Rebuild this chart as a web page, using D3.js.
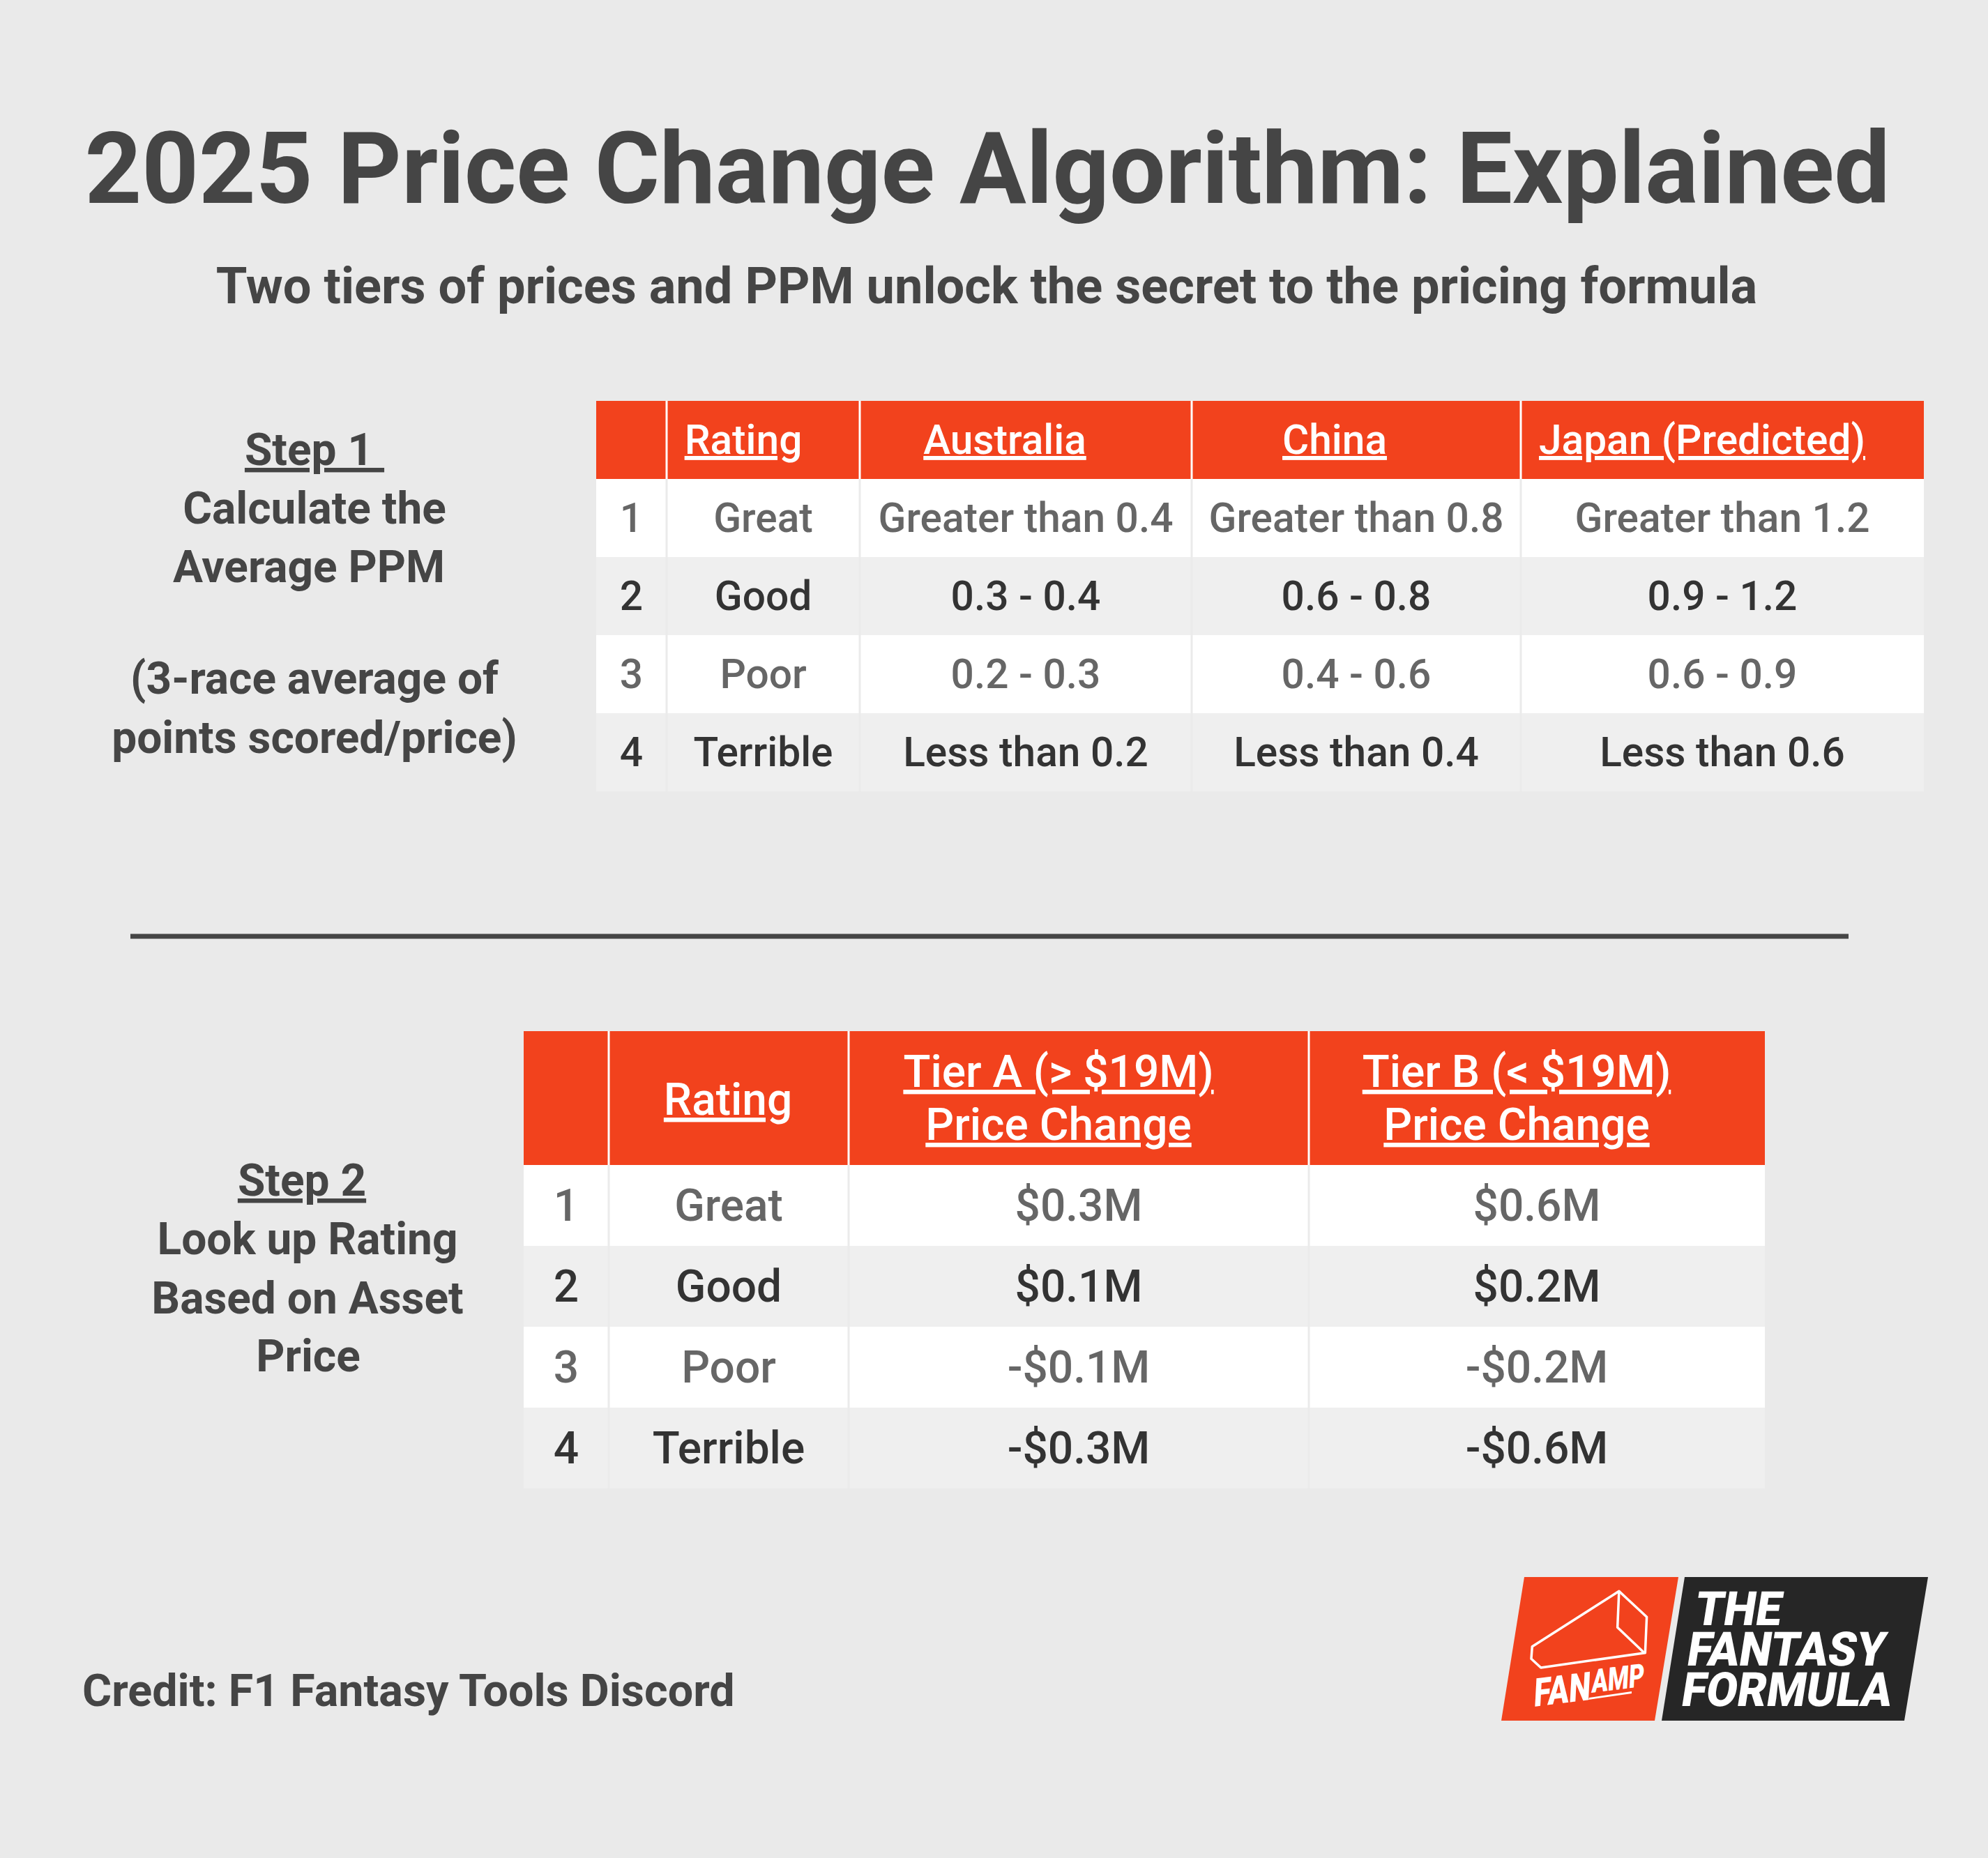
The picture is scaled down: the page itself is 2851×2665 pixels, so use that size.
<!DOCTYPE html>
<html>
<head>
<meta charset="utf-8">
<script src="https://d3js.org/d3.v7.min.js"></script>
<style>
  html, body { margin: 0; padding: 0; background: #eaeaea; }
  text { font-family: Roboto, sans-serif; white-space: pre; }
</style>
</head>
<body>
<div id="container"></div>
<script>
// table 1 - step 1
var ppmIndex = ["1", "2", "3", "4"];
var ppmRatings = ["Great", "Good", "Poor", "Terrible"];
var ppmHeaders = ["Rating", "Australia", "China", "Japan (Predicted)"];
var ppmAustralia = ["Greater than 0.4", "0.3 - 0.4", "0.2 - 0.3", "Less than 0.2"];
var ppmChina = ["Greater than 0.8", "0.6 - 0.8", "0.4 - 0.6", "Less than 0.4"];
var ppmJapan = ["Greater than 1.2", "0.9 - 1.2", "0.6 - 0.9", "Less than 0.6"];

// table 2 - step 2
var tierHeaders = [["Rating"], ["Tier A (> $19M)", "Price Change"], ["Tier B (< $19M)", "Price Change"]];
var tierA = ["$0.3M", "$0.1M", "-$0.1M", "-$0.3M"];
var tierB = ["$0.6M", "$0.2M", "-$0.2M", "-$0.6M"];

var step1Lines = ["Step 1 ", "Calculate the", "Average PPM", "", "(3-race average of", "points scored/price)"];
var step2Lines = ["Step 2", "Look up Rating", "Based on Asset", "Price"];

var width = 2851, height = 2665;
var orange = "#f2421d", dark = "#454545";

var svg = d3.select("#container").append("svg")
    .attr("width", width)
    .attr("height", height)
    .style("display", "block");

svg.append("rect").attr("width", width).attr("height", height).attr("fill", "#eaeaea");

svg.append("text")
    .attr("x", 1416).attr("y", 291)
    .attr("text-anchor", "middle")
    .attr("font-size", 142.6).attr("font-weight", 700)
    .attr("fill", dark)
    .text("2025 Price Change Algorithm: Explained");

svg.append("text")
    .attr("x", 1415).attr("y", 435)
    .attr("text-anchor", "middle")
    .attr("font-size", 72.2).attr("font-weight", 700)
    .attr("fill", dark)
    .text("Two tiers of prices and PPM unlock the secret to the pricing formula");

svg.append("line")
    .attr("x1", 187).attr("x2", 2651)
    .attr("y1", 1343).attr("y2", 1343)
    .attr("stroke", dark).attr("stroke-width", 7);

svg.append("text")
    .attr("x", 118).attr("y", 2447)
    .attr("font-size", 64.6).attr("font-weight", 700)
    .attr("fill", dark)
    .text("Credit: F1 Fantasy Tools Discord");

// side notes, first line is underlined
function sideNote(lines, x, y) {
    svg.append("g").selectAll("text")
        .data(lines)
        .enter()
        .append("text")
        .attr("x", function(d, i) { return x[i]; })
        .attr("y", function(d, i) { return y[i]; })
        .attr("text-anchor", "middle")
        .attr("font-size", 64).attr("font-weight", 700)
        .attr("fill", dark)
        .attr("text-decoration", function(d, i) { return i == 0 ? "underline" : null; })
        .text(function(d) { return d; });
}
sideNote(step1Lines, [451, 451, 443, 0, 451, 451], [667, 751, 835, 0, 995, 1080]);
sideNote(step2Lines, [433, 441, 441, 442], [1715, 1799, 1884, 1967]);

function drawTable(t) {
    var colX = d3.scaleOrdinal().domain(d3.range(t.columns.length)).range(t.edges);
    var rowY = d3.scaleBand().domain(d3.range(t.rows)).range([t.bodyTop, t.bottom]);
    var g = svg.append("g");
    var left = t.edges[0], right = t.edges[t.edges.length - 1];

    g.append("rect")
        .attr("x", left).attr("y", t.top)
        .attr("width", right - left).attr("height", t.bodyTop - t.top)
        .attr("fill", orange);

    g.selectAll("rect.row")
        .data(d3.range(t.rows))
        .enter()
        .append("rect")
        .attr("class", "row")
        .attr("x", left).attr("y", function(d) { return rowY(d); })
        .attr("width", right - left).attr("height", rowY.bandwidth())
        .attr("fill", function(d) { return d % 2 ? "#efefef" : "#ffffff"; });

    // column separators
    g.selectAll("line.head")
        .data(t.edges.slice(1, -1))
        .enter()
        .append("line")
        .attr("class", "head")
        .attr("x1", function(d) { return d; }).attr("x2", function(d) { return d; })
        .attr("y1", t.top).attr("y2", t.bodyTop)
        .attr("stroke", "#ffffff").attr("stroke-width", 3);

    g.selectAll("line.body")
        .data(t.edges.slice(1, -1))
        .enter()
        .append("line")
        .attr("class", "body")
        .attr("x1", function(d) { return d; }).attr("x2", function(d) { return d; })
        .attr("y1", t.bodyTop).attr("y2", t.bottom)
        .attr("stroke", "#ebebeb").attr("stroke-width", 3);

    // header text
    t.headers.forEach(function(lines, c) {
        g.selectAll(null)
            .data(lines)
            .enter()
            .append("text")
            .attr("x", t.headerX[c])
            .attr("y", function(d, i) { return t.headerY[c][i]; })
            .attr("text-anchor", "middle")
            .attr("font-size", t.fontSize).attr("font-weight", 500)
            .attr("fill", "#ffffff")
            .attr("text-decoration", "underline")
            .text(function(d) { return d; });
    });

    // body cells
    t.columns.forEach(function(values, c) {
        var cx = (colX(c) + t.edges[c + 1]) / 2;
        g.selectAll(null)
            .data(values)
            .enter()
            .append("text")
            .attr("x", cx)
            .attr("y", function(d, i) { return rowY(i) + t.baseline; })
            .attr("text-anchor", "middle")
            .attr("font-size", t.fontSize).attr("font-weight", 500)
            .attr("fill", function(d, i) { return i % 2 ? "#333333" : "#666666"; })
            .text(function(d) { return d; });
    });
}

drawTable({
    columns: [ppmIndex, ppmRatings, ppmAustralia, ppmChina, ppmJapan],
    headers: ppmHeaders.map(function(h) { return [h]; }),
    edges: [855, 956, 1233, 1709, 2181, 2759],
    headerX: [1066, 1441, 1914, 2441],
    headerY: [[651], [651], [651], [651]],
    rows: 4, top: 575, bodyTop: 687, bottom: 1135,
    baseline: 76, fontSize: 58.6
});

drawTable({
    columns: [ppmIndex, ppmRatings, tierA, tierB],
    headers: tierHeaders,
    edges: [751, 873, 1217, 1877, 2531],
    headerX: [1044, 1518, 2175],
    headerY: [[1599], [1559, 1635], [1559, 1635]],
    rows: 4, top: 1479, bodyTop: 1671, bottom: 2135,
    baseline: 80, fontSize: 64
});

// logo
var logo = svg.append("g");
logo.append("polygon").attr("points", "2186,2262 2407,2262 2373,2468 2153,2468").attr("fill", orange);
logo.append("polygon").attr("points", "2416,2262 2765,2262 2731,2468 2383,2468").attr("fill", "#262626");

var cone = logo.append("g")
    .attr("transform", "translate(2100,2220) scale(0.4464,0.3333)")
    .attr("fill", "none").attr("stroke", "#ffffff").attr("stroke-linejoin", "round");
cone.append("polygon").attr("points", "497,187 586,298 581,452 246,516 215,478 218,425")
    .attr("vector-effect", "non-scaling-stroke").attr("stroke-width", 3.5);
cone.append("polyline").attr("points", "497,187 492,343 578,452")
    .attr("vector-effect", "non-scaling-stroke").attr("stroke-width", 3.5);

var logoText = [
    {t: "THE", x: 2428, y: 2331, w: 124, s: 68},
    {t: "FANTASY", x: 2417, y: 2389, w: 284, s: 68},
    {t: "FORMULA", x: 2409, y: 2447, w: 301, s: 68}
];
logo.selectAll(null)
    .data(logoText)
    .enter()
    .append("text")
    .attr("transform", function(d) { return "translate(" + d.x + "," + d.y + ") skewX(-9)"; })
    .attr("font-size", function(d) { return d.s; }).attr("font-weight", 900)
    .attr("fill", "#ffffff")
    .attr("textLength", function(d) { return d.w; })
    .attr("lengthAdjust", "spacingAndGlyphs")
    .text(function(d) { return d.t; });

var ampText = [
    {t: "FAN", x: 2199, y: 2448, w: 82, s: 56},
    {t: "AMP", x: 2282, y: 2428, w: 76, s: 46}
];
logo.selectAll(null)
    .data(ampText)
    .enter()
    .append("text")
    .attr("transform", function(d) { return "translate(" + d.x + "," + d.y + ") rotate(-7) skewX(-10)"; })
    .attr("font-size", function(d) { return d.s; }).attr("font-weight", 900)
    .attr("fill", "#ffffff")
    .attr("textLength", function(d) { return d.w; })
    .attr("lengthAdjust", "spacingAndGlyphs")
    .text(function(d) { return d.t; });

logo.append("polygon").attr("points", "2279,2435 2340,2426 2340,2429 2278,2438").attr("fill", "#ffffff");
</script>
</body>
</html>
